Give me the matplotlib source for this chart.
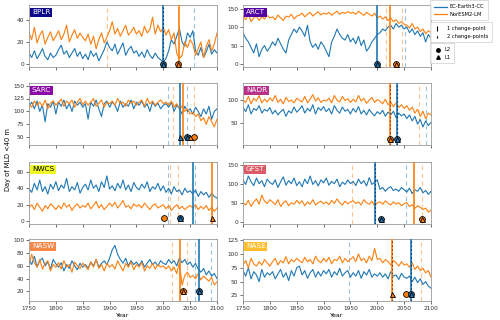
import numpy as np
import matplotlib
matplotlib.use("Agg")
import matplotlib.pyplot as plt
from matplotlib.lines import Line2D
from matplotlib.legend_handler import HandlerBase

years = list(range(1750, 2101, 5))
regions = ['BPLR', 'ARCT', 'SARC', 'NADR', 'NWCS', 'GFST', 'NASW', 'NASE']
models = ['EC-Earth3-CC', 'NorESM2-LM']

ec_BPLR = [10, 6, 12, 5, 9, 14, 7, 4, 10, 6, 8,
           13, 17, 9, 12, 6, 10, 14, 7, 11, 5,
           9, 4, 12, 7, 10, 3, 8, 13, 20, 15,
           12, 18, 9, 14, 19, 8, 13, 16, 10, 12,
           7, 11, 6, 13, 8, 5, 10, 6, 4, 2,
           5, 12, 22, 18, 25, 32, 20, 16, 28, 24,
           30, 12, 8, 15, 6, 11, 18, 9, 13, 10]
nor_BPLR = [28, 22, 33, 19, 26, 30, 18, 24, 29, 21, 25,
            30, 22, 27, 35, 20, 26, 31, 23, 28, 24,
            21, 27, 18, 25, 14, 22, 28, 19, 24, 30,
            38, 27, 32, 25, 30, 35, 26, 29, 33, 27,
            30, 25, 34, 28, 31, 42, 27, 35, 29, 33,
            26, 31, 22, 28, 10, 5, 8, 20, 15, 22,
            18, 8, 14, 20, 6, 16, 22, 12, 18, 28]

ec_ARCT = [85, 70, 60, 45, 30, 55, 20, 40, 50, 35, 45,
           60, 50, 70, 55, 40, 30, 65, 80, 95, 85,
           100, 90, 75, 105, 60, 45, 55, 40, 60, 50,
           35, 20, 60, 75, 95, 80, 70, 65, 80, 60,
           70, 55, 75, 50, 65, 35, 45, 60, 70, 80,
           85, 95, 90, 100, 105, 95, 110, 100, 105, 95,
           100, 85, 95, 80, 90, 75, 85, 60, 80, 70]
nor_ARCT = [130, 120, 135, 115, 125, 130, 118, 128, 122, 132, 125,
            128, 120, 133, 125, 118, 130, 127, 135, 122, 130,
            132, 138, 128, 135, 140, 130, 136, 142, 133, 138,
            135, 140, 132, 138, 143, 135, 140, 137, 142, 138,
            140, 135, 143, 137, 132, 140, 135, 130, 138, 125,
            130, 122, 128, 118, 125, 115, 120, 110, 115, 108,
            105, 98, 110, 95, 100, 88, 95, 82, 90, 85]

ec_SARC = [110, 118, 105, 120, 100, 112, 80, 115, 108, 120, 95,
           118, 110, 122, 105, 115, 100, 120, 112, 118, 108,
           115, 85, 118, 110, 122, 105, 90, 115, 120, 108,
           118, 112, 100, 120, 108, 115, 110, 122, 105, 118,
           112, 120, 108, 115, 100, 118, 110, 116, 105, 112,
           115, 108, 118, 100, 112, 105, 95, 110, 100, 105,
           95, 108, 100, 90, 105, 95, 110, 85, 100, 105]
nor_SARC = [115, 108, 120, 112, 118, 110, 122, 105, 116, 120, 112,
            118, 124, 110, 120, 115, 122, 108, 118, 125, 113,
            120, 112, 118, 125, 110, 116, 122, 108, 118, 115,
            120, 112, 125, 115, 118, 110, 122, 116, 120, 112,
            118, 122, 110, 125, 115, 120, 112, 118, 122, 115,
            118, 112, 120, 108, 115, 105, 110, 100, 105, 95,
            98, 90, 95, 82, 88, 75, 90, 80, 70, 85]

ec_NADR = [85, 75, 90, 70, 82, 78, 88, 72, 80, 76, 84,
           70, 78, 68, 75, 80, 65, 77, 72, 85, 74,
           80, 88, 72, 82, 76, 90, 70, 84, 78, 86,
           75, 82, 70, 88, 78, 72, 85, 76, 80, 70,
           82, 74, 86, 70, 78, 68, 80, 72, 66, 75,
           70, 78, 65, 74, 68, 76, 62, 72, 66, 70,
           60, 68, 55, 65, 48, 58, 42, 55, 45, 52]
nor_NADR = [100, 95, 108, 92, 104, 98, 110, 94, 102, 96, 105,
            98, 110, 95, 102, 92, 106, 97, 100, 94, 104,
            100, 96, 108, 94, 102, 112, 98, 105, 95, 100,
            98, 104, 94, 110, 100, 96, 108, 99, 103, 95,
            102, 96, 110, 98, 104, 93, 100, 106, 95, 101,
            98, 92, 102, 90, 96, 86, 94, 84, 90, 82,
            88, 78, 85, 72, 80, 65, 76, 60, 72, 68]

ec_NWCS = [40, 35, 46, 38, 50, 36, 42, 33, 45, 39, 48,
           37, 44, 40, 52, 36, 42, 38, 47, 34, 41,
           45, 38, 50, 40, 44, 36, 48, 41, 55, 39,
           43, 37, 46, 40, 50, 38, 44, 36, 47, 41,
           38, 45, 40, 48, 36, 42, 39, 46, 37, 43,
           35, 40, 33, 42, 36, 38, 32, 40, 35, 37,
           33, 38, 30, 36, 32, 35, 29, 34, 30, 28]
nor_NWCS = [16, 20, 14, 22, 17, 12, 19, 15, 21, 18, 14,
            19, 15, 22, 17, 20, 13, 18, 21, 16, 19,
            17, 22, 15, 19, 24, 16, 20, 14, 18, 22,
            18, 23, 16, 20, 25, 17, 19, 15, 21, 18,
            20, 16, 22, 18, 14, 19, 21, 16, 18, 20,
            15, 19, 13, 17, 20, 15, 18, 14, 17, 19,
            16, 20, 14, 18, 15, 19, 13, 17, 12, 16]

ec_GFST = [110, 98, 120, 105, 95, 115, 100, 108, 92, 112, 103,
           98, 110, 90, 105, 118, 96, 108, 100, 115, 95,
           105, 92, 112, 100, 120, 98, 108, 94, 110, 102,
           115, 96, 106, 100, 112, 92, 104, 98, 110, 100,
           106, 95, 112, 100, 108, 94, 116, 98, 104, 110,
           85, 90, 80, 88, 92, 82, 86, 80, 90, 84,
           78, 88, 74, 84, 80, 90, 76, 82, 72, 80]
nor_GFST = [50, 44, 56, 40, 52, 60, 46, 70, 54, 48, 58,
            52, 45, 58, 40, 50, 55, 42, 50, 46, 56,
            48, 55, 42, 52, 46, 58, 44, 50, 54, 47,
            52, 45, 56, 48, 60, 50, 44, 54, 47, 52,
            55, 48, 52, 44, 58, 50, 46, 54, 42, 50,
            52, 46, 55, 48, 44, 52, 46, 50, 42, 48,
            50, 40, 45, 35, 42, 38, 32, 36, 25, 30]

ec_NASW = [70, 62, 75, 58, 68, 72, 60, 66, 55, 70, 63,
           58, 65, 52, 62, 56, 68, 60, 54, 64, 58,
           62, 56, 66, 60, 70, 58, 64, 68, 62, 72,
           85, 92, 78, 70, 64, 72, 60, 68, 62, 66,
           60, 68, 58, 64, 70, 62, 66, 60, 68, 64,
           62, 70, 64, 68, 60, 72, 65, 70, 62, 66,
           58, 64, 55, 50, 56, 46, 52, 44, 48, 40]
nor_NASW = [62, 78, 65, 58, 70, 55, 64, 68, 52, 62, 58,
            65, 55, 68, 58, 62, 50, 66, 60, 56, 64,
            60, 54, 66, 58, 70, 56, 62, 52, 64, 58,
            62, 55, 68, 60, 52, 64, 58, 66, 54, 62,
            58, 65, 52, 60, 56, 64, 55, 62, 58, 60,
            55, 60, 52, 58, 48, 65, 30, 45, 50, 42,
            45, 40, 48, 38, 44, 40, 36, 42, 30, 35]

ec_NASE = [70, 60, 75, 55, 68, 62, 50, 72, 58, 66, 62,
           68, 55, 64, 72, 58, 66, 52, 70, 60, 75,
           78, 62, 70, 56, 66, 72, 58, 68, 60, 70,
           64, 72, 58, 68, 62, 74, 60, 66, 70, 58,
           66, 60, 70, 56, 68, 62, 72, 58, 64, 60,
           66, 58, 64, 55, 68, 60, 62, 54, 65, 58,
           56, 60, 50, 58, 48, 55, 45, 50, 42, 38]
nor_NASE = [80, 88, 75, 92, 82, 78, 86, 80, 90, 84, 78,
            86, 92, 80, 88, 84, 95, 82, 90, 86, 92,
            88, 84, 94, 86, 90, 82, 96, 88, 84, 92,
            86, 94, 82, 90, 88, 96, 84, 92, 86, 90,
            95, 86, 100, 88, 92, 84, 96, 88, 110, 90,
            92, 84, 90, 86, 80, 88, 84, 78, 86, 80,
            82, 76, 84, 72, 78, 70, 74, 66, 70, 58]

series = {
    'BPLR': (ec_BPLR, nor_BPLR), 'ARCT': (ec_ARCT, nor_ARCT),
    'SARC': (ec_SARC, nor_SARC), 'NADR': (ec_NADR, nor_NADR),
    'NWCS': (ec_NWCS, nor_NWCS), 'GFST': (ec_GFST, nor_GFST),
    'NASW': (ec_NASW, nor_NASW), 'NASE': (ec_NASE, nor_NASE),
}

# change points: (year, model index, kind) kind: '1' single cp, '2' two cps, 'b' both
cp_BPLR = [(1895, 1, '2'), (2000, 0, 'b'), (2030, 1, '1'), (2057, 0, '2')]
cp_ARCT = [(2000, 0, '1'), (2016, 1, '2'), (2024, 1, '1'), (2046, 1, '2'), (2052, 0, '2')]
cp_SARC = [(2009, 0, '2'), (2018, 1, '2'), (2032, 0, '1'), (2036, 1, '1'), (2045, 0, '2'), (2058, 1, '2')]
cp_NADR = [(2024, 1, 'b'), (2037, 0, 'b'), (2078, 1, '2'), (2091, 0, '2')]
cp_NWCS = [(2008, 0, '2'), (2013, 1, '2'), (2027, 1, '2'), (2056, 0, '1'), (2059, 0, '2'), (2091, 1, '1')]
cp_GFST = [(1953, 1, '2'), (1996, 0, 'b'), (2053, 0, '2'), (2068, 1, '1'), (2083, 1, '2')]
cp_NASW = [(2017, 1, '2'), (2031, 1, '1'), (2044, 1, '2'), (2059, 0, '2'), (2066, 0, '1'), (2089, 0, '2')]
cp_NASE = [(1947, 0, '2'), (2027, 1, 'b'), (2063, 0, 'b'), (2081, 1, '2')]

# detection years: (year, model index, level) 'L2' circle, 'L1' triangle
det_BPLR = [(2000, 0, 'L2'), (2000, 0, 'L1'), (2028, 1, 'L2'), (2028, 1, 'L1')]
det_ARCT = [(2000, 0, 'L2'), (2000, 0, 'L1'), (2034, 1, 'L2'), (2034, 1, 'L1')]
det_SARC = [(2032, 0, 'L1'), (2045, 0, 'L2'), (2045, 0, 'L1'), (2050, 1, 'L1'), (2058, 1, 'L2')]
det_NADR = [(2024, 1, 'L2'), (2024, 1, 'L1'), (2037, 0, 'L2'), (2037, 0, 'L1')]
det_NWCS = [(2002, 1, 'L2'), (2032, 0, 'L2'), (2032, 0, 'L1'), (2091, 1, 'L1')]
det_GFST = [(2007, 0, 'L2'), (2007, 0, 'L1'), (2083, 1, 'L2'), (2083, 1, 'L1')]
det_NASW = [(2037, 1, 'L2'), (2037, 1, 'L1'), (2066, 0, 'L2'), (2066, 0, 'L1')]
det_NASE = [(2027, 1, 'L1'), (2053, 1, 'L2'), (2063, 0, 'L2'), (2063, 0, 'L1')]

cps = dict(BPLR=cp_BPLR, ARCT=cp_ARCT, SARC=cp_SARC, NADR=cp_NADR,
           NWCS=cp_NWCS, GFST=cp_GFST, NASW=cp_NASW, NASE=cp_NASE)
dets = dict(BPLR=det_BPLR, ARCT=det_ARCT, SARC=det_SARC, NADR=det_NADR,
            NWCS=det_NWCS, GFST=det_GFST, NASW=det_NASW, NASE=det_NASE)
det_level = dict(BPLR=0.5, ARCT=0, SARC=50, NADR=17, NWCS=4, GFST=8, NASW=20, NASE=27)

ylims = dict(BPLR=(-2.5, 53), ARCT=(-8, 160), SARC=(35, 155), NADR=(3, 137),
             NWCS=(-3.5, 72), GFST=(-6, 157), NASW=(5, 102), NASE=(15, 127))
yticks = dict(BPLR=[0, 20, 40], ARCT=[0, 50, 100, 150], SARC=[50, 75, 100, 125, 150],
              NADR=[50, 100], NWCS=[0, 20, 40, 60], GFST=[0, 50, 100, 150],
              NASW=[20, 40, 60, 80, 100], NASE=[25, 50, 75, 100, 125])
box_pos = dict(BPLR=0, ARCT=1/7, SARC=2/7, NADR=3/7, GFST=4/7, NASW=5/7, NASE=6/7, NWCS=1.0)

cols = ['#1f77b4', '#ff7f0e']
dark = ['#0b3d66', '#8a4200']

plt.rcParams['font.family'] = ['DejaVu Sans']
fig = plt.figure(figsize=(5, 3.2), dpi=100)

W, H = 500, 320
lefts = [29, 243]
tops = [5, 83, 162, 239]
aw, ah = 188, 62

for i, reg in enumerate(regions):
    r, c = divmod(i, 2)
    ax = fig.add_axes([lefts[c] / W, 1 - (tops[r] + ah) / H, aw / W, ah / H])
    ec, nor = series[reg]
    ax.plot(years, ec, color=cols[0], lw=0.8, zorder=2)
    ax.plot(years, nor, color=cols[1], lw=0.8, zorder=2)
    for (yr, m, kind) in cps[reg]:
        if kind == '1':
            ax.axvline(yr, color=cols[m], lw=1.2, zorder=3)
        elif kind == '2':
            ax.axvline(yr, color=cols[m], lw=0.8, ls=(0, (4, 3)), alpha=0.45, zorder=1)
        else:
            ax.axvline(yr, color=cols[m], lw=1.2, zorder=3)
            ax.axvline(yr, color=dark[m], lw=0.8, ls=(0, (1.5, 2)), zorder=3)
    yl = det_level[reg]
    for (yr, m, lev) in dets[reg]:
        if lev == 'L2':
            ax.plot([yr], [yl], marker='o', ms=4.2, mfc=cols[m], mec='k', mew=0.6,
                    ls='none', zorder=5)
        else:
            ax.plot([yr], [yl], marker='^', ms=3.6, mfc=cols[m], mec='k', mew=0.6,
                    ls='none', zorder=6)
    ax.set_xlim(1750, 2100)
    ax.set_ylim(*ylims[reg])
    ax.set_yticks(yticks[reg])
    ax.set_xticks(range(1750, 2101, 50))
    ax.tick_params(labelsize=4.2, length=2, width=0.5, pad=1.5, colors='0.2')
    if r < 3:
        ax.set_xticklabels([])
    else:
        ax.set_xlabel('Year', fontsize=4.5, labelpad=1.5)
    for s in ax.spines.values():
        s.set_color('0.6')
        s.set_linewidth(0.6)
    fc = plt.cm.plasma(box_pos[reg])
    tc = 'black' if reg == 'NWCS' else 'white'
    ax.text(0.015, 0.93, reg, transform=ax.transAxes, fontsize=5.2, color=tc,
            va='top', ha='left', zorder=10,
            bbox=dict(boxstyle='square,pad=0.25', fc=fc, ec='none'))

fig.text(8 / W, 0.5, 'Day of MLD <40 m', rotation=90, fontsize=4.8,
         va='center', ha='center')


class VLineHandler(HandlerBase):
    def __init__(self, ls):
        super().__init__()
        self.ls = ls

    def create_artists(self, legend, orig_handle, xdescent, ydescent, width,
                       height, fontsize, trans):
        x = 0.3 * width - xdescent
        ln = Line2D([x, x], [-ydescent - 0.15 * height, height * 1.1 - ydescent],
                    color='k', lw=0.8, ls=self.ls)
        ln.set_transform(trans)
        return [ln]


leg_kw = dict(fontsize=3.7, frameon=True, loc='upper left', borderpad=0.45,
              labelspacing=0.45, handletextpad=0.5, borderaxespad=0)
h1 = [Line2D([], [], color=cols[0], lw=0.9), Line2D([], [], color=cols[1], lw=0.9)]
l1 = fig.legend(h1, models, bbox_to_anchor=(432 / W, 1 - 2 / H), handlelength=2.4, **leg_kw)
h2 = [Line2D([], []), Line2D([], [])]
l2 = fig.legend(h2, ['1 change-point', '2 change-points'],
                bbox_to_anchor=(432 / W, 1 - 24 / H), handlelength=2.0,
                handler_map={h2[0]: VLineHandler((0, (6, 1))), h2[1]: VLineHandler((0, (2, 2)))},
                **leg_kw)
h3 = [Line2D([], [], marker='o', color='k', ls='none', ms=2.5),
      Line2D([], [], marker='^', color='k', ls='none', ms=2.5)]
l3 = fig.legend(h3, ['L2', 'L1'], bbox_to_anchor=(432 / W, 1 - 45 / H), handlelength=1.4, **leg_kw)
for lg in (l1, l2, l3):
    fr = lg.get_frame()
    fr.set_edgecolor('0.8')
    fr.set_linewidth(0.6)
    fr.set_boxstyle('square')

fig.savefig('out.png', dpi=100)
